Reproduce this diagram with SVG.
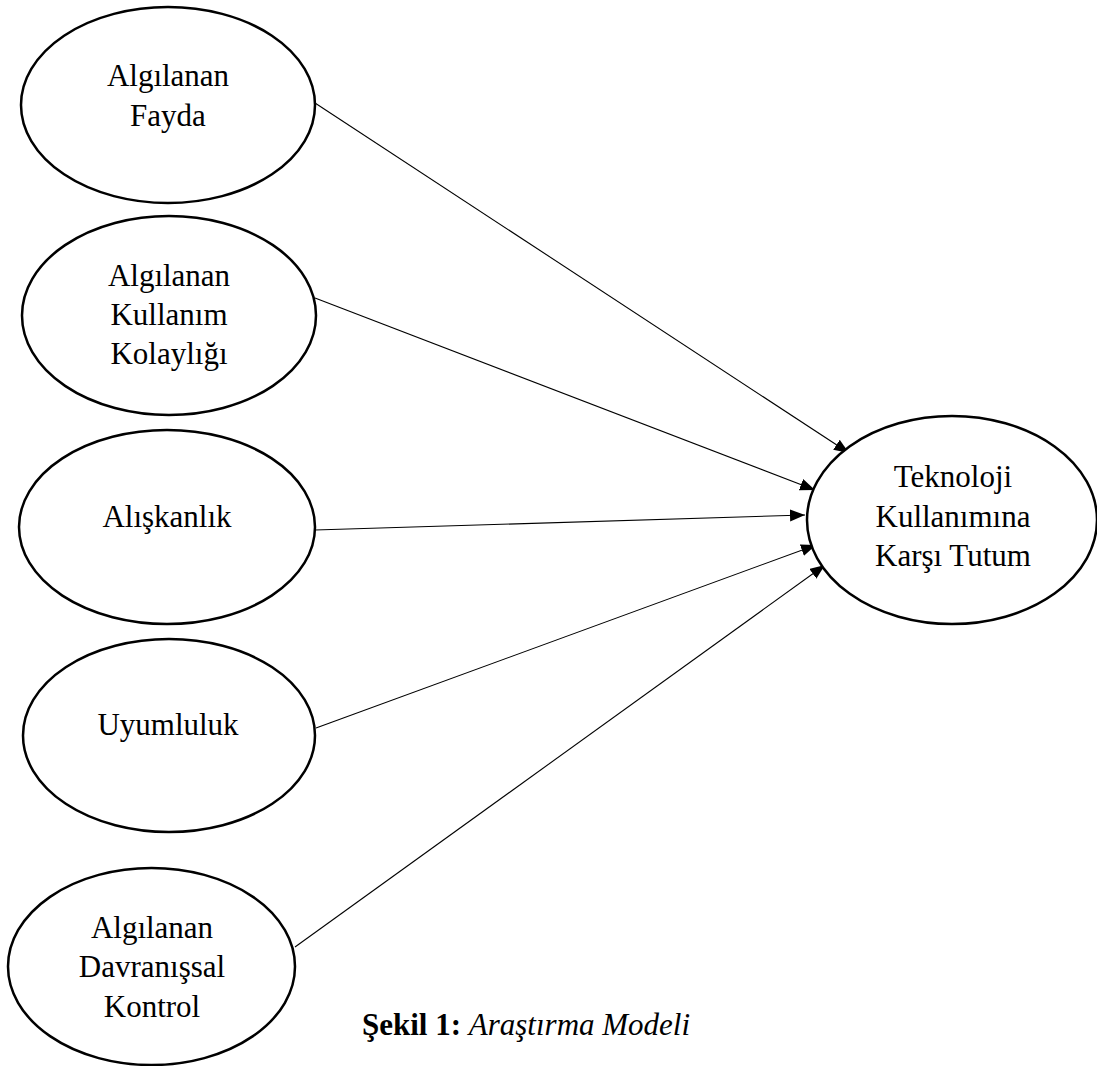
<svg xmlns="http://www.w3.org/2000/svg" width="1097" height="1066" viewBox="0 0 1097 1066">
<style>
.node ellipse{fill:#fff;stroke:#000;stroke-width:2.5}
.node text{font-family:"Liberation Serif","Times New Roman",serif;font-size:31px;fill:#000;text-anchor:middle}
.edge{stroke:#000;stroke-width:1.1;fill:none;marker-end:url(#arr)}
.cap{font-family:"Liberation Serif","Times New Roman",serif;font-size:31px;fill:#000}
</style>
<defs>
<marker id="arr" markerUnits="userSpaceOnUse" markerWidth="16" markerHeight="13" refX="15" refY="6" orient="auto">
<path d="M0,0 L15,6 L0,12 z" fill="#000"/>
</marker>
</defs>
<rect width="1097" height="1066" fill="#fff"/>
<g id="connectors">
<line class="edge" x1="315" y1="103" x2="849" y2="453"/>
<line class="edge" x1="315" y1="298" x2="815" y2="490"/>
<line class="edge" x1="315" y1="530" x2="805" y2="515"/>
<line class="edge" x1="316" y1="728" x2="816" y2="545"/>
<line class="edge" x1="295" y1="947" x2="825" y2="565"/>
</g>
<g id="n1" class="node">
<ellipse cx="168" cy="105" rx="147" ry="98"/>
<text x="168" y="86">Algılanan</text>
<text x="168" y="126">Fayda</text>
</g>
<g id="n2" class="node">
<ellipse cx="169" cy="315.5" rx="147" ry="99.5"/>
<text x="169" y="286">Algılanan</text>
<text x="169" y="325">Kullanım</text>
<text x="169" y="364">Kolaylığı</text>
</g>
<g id="n3" class="node">
<ellipse cx="167" cy="527" rx="148" ry="97"/>
<text x="167" y="527">Alışkanlık</text>
</g>
<g id="n4" class="node">
<ellipse cx="169" cy="735.5" rx="146" ry="96.5"/>
<text x="168" y="735">Uyumluluk</text>
</g>
<g id="n5" class="node">
<ellipse cx="151.5" cy="966.5" rx="143.5" ry="98.5"/>
<text x="152" y="938">Algılanan</text>
<text x="152" y="977">Davranışsal</text>
<text x="152" y="1017">Kontrol</text>
</g>
<g id="n6" class="node">
<ellipse cx="952" cy="520" rx="145" ry="104"/>
<text x="953" y="487">Teknoloji</text>
<text x="953" y="527">Kullanımına</text>
<text x="953" y="566">Karşı Tutum</text>
</g>
<text class="cap" x="362" y="1035"><tspan font-weight="bold">Şekil 1:</tspan> <tspan font-style="italic">Araştırma Modeli</tspan></text>
</svg>
